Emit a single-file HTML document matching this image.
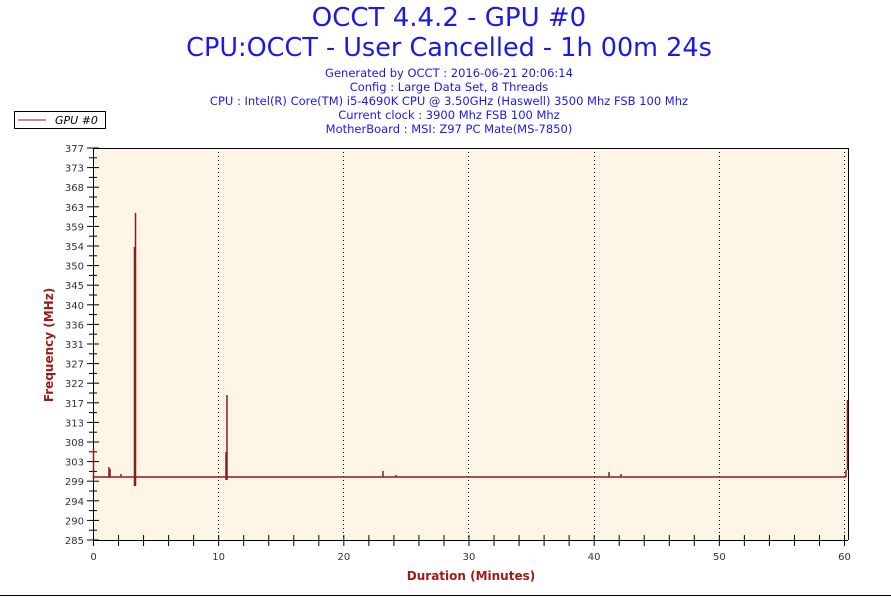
<!DOCTYPE html>
<html><head><style>
body{margin:0;background:#fff;width:891px;height:597px;overflow:hidden;font-family:"DejaVu Sans",sans-serif}
</style></head><body>
<svg width="891" height="597" xmlns="http://www.w3.org/2000/svg" font-family="DejaVu Sans, sans-serif">
<text x="449" y="26" font-size="26" fill="#1a1ae6" text-anchor="middle">OCCT 4.4.2 - GPU #0</text>
<text x="449" y="56" font-size="25.5" fill="#1a1ae6" text-anchor="middle">CPU:OCCT - User Cancelled - 1h 00m 24s</text>
<g font-size="11.5" fill="#1a1ae6" text-anchor="middle">
<text x="449" y="77">Generated by OCCT : 2016-06-21 20:06:14</text>
<text x="449" y="91">Config : Large Data Set, 8 Threads</text>
<text x="449" y="105">CPU : Intel(R) Core(TM) i5-4690K CPU @ 3.50GHz (Haswell) 3500 Mhz FSB 100 Mhz</text>
<text x="449" y="119">Current clock : 3900 Mhz FSB 100 Mhz</text>
<text x="449" y="133">MotherBoard : MSI: Z97 PC Mate(MS-7850)</text>
</g>
<rect x="14.5" y="111.5" width="91" height="17" fill="#fff" stroke="#000"/>
<line x1="18" y1="120" x2="46" y2="120" stroke="#8b1a1a"/>
<text x="55" y="124" font-size="11" font-style="italic" fill="#000">GPU #0</text>
<rect x="93" y="148" width="755" height="392" fill="#fdf6e6"/>
<g stroke="#000" stroke-dasharray="1,3">
<line x1="218.5" y1="148" x2="218.5" y2="540"/><line x1="343.5" y1="148" x2="343.5" y2="540"/>
<line x1="468.5" y1="148" x2="468.5" y2="540"/><line x1="594.5" y1="148" x2="594.5" y2="540"/>
<line x1="719.5" y1="148" x2="719.5" y2="540"/><line x1="844.5" y1="148" x2="844.5" y2="540"/>
</g>
<g stroke="#000">
<line x1="93.5" y1="148" x2="93.5" y2="541"/>
<line x1="93" y1="540.5" x2="848" y2="540.5"/>
<line x1="93" y1="148.5" x2="848" y2="148.5"/>
<line x1="848.5" y1="148" x2="848.5" y2="540"/>
<line x1="0" y1="595.5" x2="891" y2="595.5"/>
</g>
<g id="yt" stroke="#000"></g>
<g id="xt" stroke="#000"></g>
<g id="yl" font-size="10" fill="#333" text-anchor="end"></g>
<g id="xl" font-size="10" fill="#333" text-anchor="middle"></g>
<g stroke="#8b1a1a" stroke-width="1.5" fill="none">
<line x1="93" y1="477" x2="846" y2="477"/>
<line x1="93.5" y1="448" x2="93.5" y2="479"/>
<line x1="109" y1="467" x2="109" y2="477"/>
<line x1="110" y1="469" x2="110" y2="477"/>
<line x1="121" y1="474" x2="121" y2="477"/>
<line x1="134.5" y1="247" x2="134.5" y2="486"/>
<line x1="135.5" y1="213" x2="135.5" y2="486"/>
<line x1="226" y1="452" x2="226" y2="480"/>
<line x1="227" y1="395" x2="227" y2="480"/>
<line x1="383" y1="471" x2="383" y2="477"/>
<line x1="396" y1="475" x2="396" y2="477"/>
<line x1="609" y1="472" x2="609" y2="477"/>
<line x1="621" y1="474" x2="621" y2="477"/>
<line x1="846" y1="470" x2="846" y2="477"/>
<line x1="847.5" y1="400" x2="847.5" y2="470"/>
</g>
<text x="471" y="580" font-size="12" font-weight="bold" fill="#a01a1a" text-anchor="middle">Duration (Minutes)</text>
<text transform="translate(53,345) rotate(-90)" font-size="12" font-weight="bold" fill="#a01a1a" text-anchor="middle">Frequency (MHz)</text>
</svg>
<script>
var ns="http://www.w3.org/2000/svg";
function el(p,t,a,tx){var e=document.createElementNS(ns,t);for(var k in a)e.setAttribute(k,a[k]);if(tx)e.textContent=tx;document.getElementById(p).appendChild(e);}
var lab=[377,373,368,363,359,354,350,345,340,336,331,327,322,317,313,308,303,299,294,290,285];
for(var i=0;i<=40;i++){var y=148+i*392/40;var maj=i%2==0;el("yt","line",{x1:maj?87:89,x2:maj?99:97,y1:y,y2:y});
if(maj)el("yl","text",{x:84,y:y+4},lab[i/2]);}
for(var i=0;i<=30;i++){var x=93.5+i*751/30;var maj=i%5==0;el("xt","line",{x1:x,x2:x,y1:535,y2:546});
if(maj)el("xl","text",{x:x,y:560},String(i*2));}
</script>
</body></html>
